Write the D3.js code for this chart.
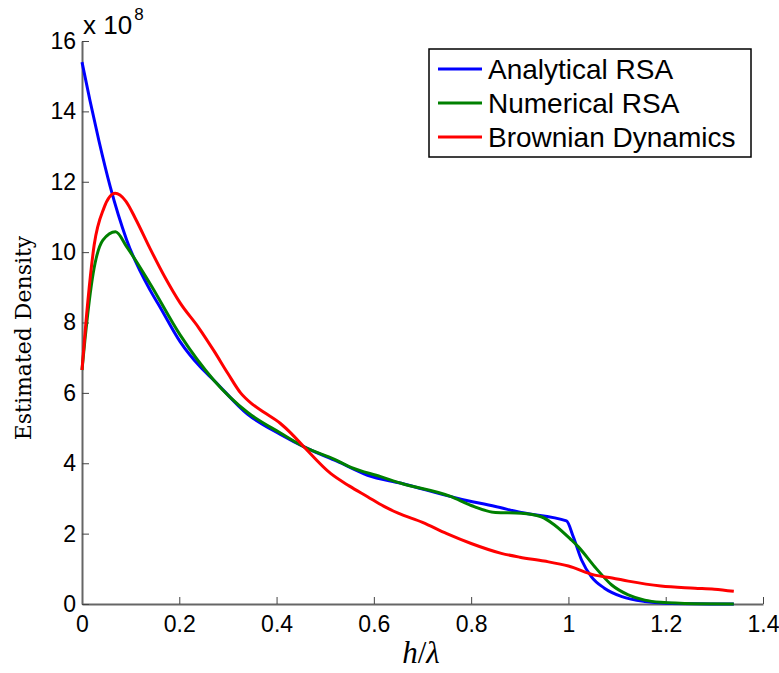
<!DOCTYPE html>
<html>
<head>
<meta charset="utf-8">
<script src="https://cdn.jsdelivr.net/npm/d3@7"></script>
<style>
body { margin: 0; background: #fff; }
svg { display: block; font-family: "Liberation Sans", Arial, sans-serif; }
</style>
</head>
<body>
<script>
/*series values, x in h/lambda, y in units of 1e8*/
var analyticalX = [0, 0.0165, 0.035, 0.058, 0.092, 0.14, 0.16, 0.202, 0.243, 0.271, 0.34, 0.408, 0.463, 0.525, 0.587, 0.656, 0.773, 0.85, 0.903, 0.996, 1.01, 1.027, 1.047, 1.074, 1.11, 1.157, 1.2, 1.26, 1.34];
var analyticalY = [15.4, 14.3, 13.15, 11.86, 10.34, 8.92, 8.45, 7.45, 6.74, 6.36, 5.4, 4.82, 4.42, 4.05, 3.66, 3.43, 3.0, 2.77, 2.6, 2.36, 1.91, 1.25, 0.78, 0.45, 0.21, 0.07, 0.02, 0.005, 0];

var numericalX = [0, 0.006, 0.023, 0.043, 0.069, 0.092, 0.14, 0.202, 0.271, 0.34, 0.408, 0.463, 0.518, 0.553, 0.614, 0.656, 0.759, 0.8, 0.85, 0.903, 0.944, 0.972, 1.006, 1.02, 1.054, 1.089, 1.123, 1.157, 1.19, 1.26, 1.34];
var numericalY = [6.65, 7.5, 9.4, 10.34, 10.58, 10.15, 9.1, 7.64, 6.36, 5.45, 4.86, 4.42, 4.12, 3.88, 3.62, 3.43, 3.05, 2.8, 2.6, 2.58, 2.48, 2.24, 1.82, 1.63, 1.06, 0.54, 0.26, 0.11, 0.05, 0.01, 0];

var brownianX = [0, 0.012, 0.025, 0.045, 0.068, 0.09, 0.11, 0.14, 0.17, 0.202, 0.24, 0.271, 0.3, 0.326, 0.35, 0.374, 0.408, 0.43, 0.456, 0.511, 0.55, 0.587, 0.62, 0.65, 0.7, 0.75, 0.8, 0.862, 0.9, 0.95, 1.0, 1.054, 1.09, 1.123, 1.19, 1.26, 1.3, 1.34];
var brownianY = [6.65, 8.6, 10.2, 11.25, 11.67, 11.45, 10.95, 10.1, 9.3, 8.55, 7.85, 7.2, 6.55, 6.0, 5.68, 5.45, 5.13, 4.85, 4.47, 3.71, 3.35, 3.05, 2.78, 2.58, 2.32, 2.0, 1.72, 1.44, 1.33, 1.22, 1.08, 0.82, 0.74, 0.65, 0.51, 0.45, 0.42, 0.36];

var seriesNames = ["Analytical RSA", "Numerical RSA", "Brownian Dynamics"];
var seriesColors = ["#0000ff", "#008000", "#ff0000"];

var xTicks = [0, 0.2, 0.4, 0.6, 0.8, 1, 1.2, 1.4];
var yTicks = [0, 2, 4, 6, 8, 10, 12, 14, 16];

var svgWidth = 779;
var svgHeight = 673;
var margin = {top: 41, right: 16, bottom: 69, left: 82};
var width = svgWidth - margin.left - margin.right;
var height = svgHeight - margin.top - margin.bottom;

var svg = d3.select("body").append("svg")
	.attr("width", svgWidth)
	.attr("height", svgHeight);

var chartGroup = svg.append("g")
	.attr("transform", `translate(${margin.left}, ${margin.top})`);

var xScale = d3.scaleLinear().domain([0, 1.4]).range([0, width]);
var yScale = d3.scaleLinear().domain([0, 16]).range([height, 0]);

/*axes, ticks pointing inward like matlab*/
var bottomAxis = d3.axisBottom(xScale)
	.tickValues(xTicks)
	.tickFormat(d3.format("~g"))
	.tickSizeInner(-7)
	.tickSizeOuter(0)
	.tickPadding(12);
var leftAxis = d3.axisLeft(yScale)
	.tickValues(yTicks)
	.tickSizeInner(-7)
	.tickSizeOuter(0)
	.tickPadding(6);

var xAxis = chartGroup.append("g")
	.attr("transform", `translate(0, ${height})`)
	.call(bottomAxis);
var yAxis = chartGroup.append("g")
	.call(leftAxis);

[xAxis, yAxis].forEach(function (ax) {
	ax.select(".domain").attr("stroke", "#666").attr("stroke-width", 2);
	ax.selectAll(".tick line").attr("stroke", "#444").attr("stroke-width", 1);
	ax.selectAll(".tick text")
		.attr("fill", "#000")
		.style("font-size", "23px")
		.style("font-family", "'Liberation Sans', Arial, sans-serif");
});

/*draw the three curves*/
var seriesData = [
	d3.zip(analyticalX, analyticalY),
	d3.zip(numericalX, numericalY),
	d3.zip(brownianX, brownianY)
];

var line = d3.line()
	.x(d => xScale(d[0]))
	.y(d => yScale(d[1]))
	.curve(d3.curveMonotoneX);

chartGroup.selectAll(".series")
	.data(seriesData)
	.enter()
	.append("path")
	.attr("class", "series")
	.attr("d", line)
	.attr("fill", "none")
	.attr("stroke", (d, i) => seriesColors[i])
	.attr("stroke-width", 3)
	.attr("stroke-linejoin", "round");

/*multiplier label*/
var mult = svg.append("text")
	.attr("x", 83)
	.attr("y", 34)
	.style("font-size", "26px")
	.text("x 10");
mult.append("tspan")
	.attr("dx", 2)
	.attr("dy", -14)
	.style("font-size", "17px")
	.text("8");

/*axis titles*/
svg.append("text")
	.attr("transform", "translate(31, 338) rotate(-90)")
	.attr("text-anchor", "middle")
	.style("font-family", "'DejaVu Serif', 'Liberation Serif', serif")
	.style("font-size", "22px")
	.text("Estimated Density");

var xLabel = svg.append("text")
	.attr("x", 421)
	.attr("y", 663)
	.attr("text-anchor", "middle")
	.style("font-family", "'Liberation Serif', 'DejaVu Serif', serif")
	.style("font-size", "31px");
xLabel.append("tspan").style("font-style", "italic").text("h");
xLabel.append("tspan").text("/");
xLabel.append("tspan").style("font-style", "italic").text("λ");

/*legend*/
var legend = svg.append("g");
legend.append("rect")
	.attr("x", 429)
	.attr("y", 49)
	.attr("width", 322)
	.attr("height", 108)
	.attr("fill", "#fff")
	.attr("stroke", "#000")
	.attr("stroke-width", 1.5);

var legendRows = legend.selectAll(".legendRow")
	.data(seriesNames)
	.enter()
	.append("g")
	.attr("class", "legendRow")
	.attr("transform", (d, i) => `translate(438, ${69 + i * 34})`);

legendRows.append("line")
	.attr("x1", 0)
	.attr("x2", 44)
	.attr("stroke", (d, i) => seriesColors[i])
	.attr("stroke-width", 3);

legendRows.append("text")
	.attr("x", 50)
	.attr("dy", "0.36em")
	.style("font-size", "28px")
	.text(d => d);
</script>
</body>
</html>
